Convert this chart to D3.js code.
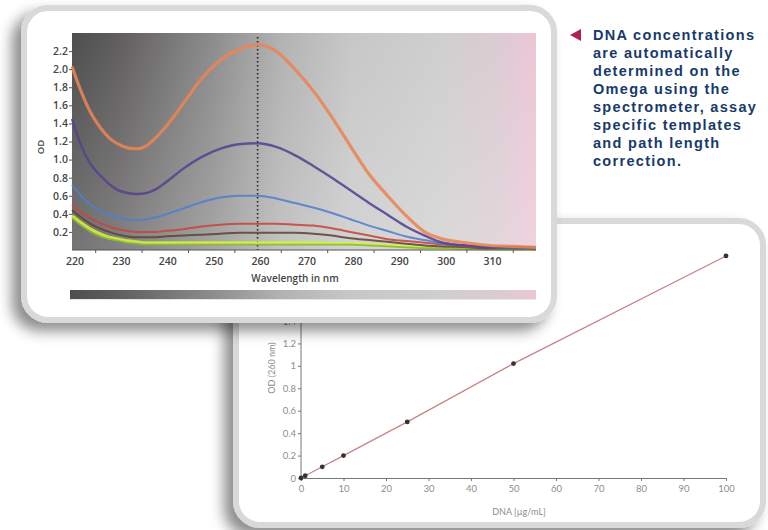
<!DOCTYPE html>
<html>
<head>
<meta charset="utf-8">
<script src="https://cdn.jsdelivr.net/npm/d3@7"></script>
<style>
  body { margin: 0; background: #fff; }
  svg { display: block; }
</style>
</head>
<body>
<script>
// spectrum data (OD vs wavelength)
const wavelengths = [220, 222, 224, 226, 228, 230, 232, 234, 236, 238, 240, 244, 248, 252, 256, 260, 264, 268, 272, 276, 280, 284, 288, 292, 296, 300, 305, 310, 315, 320];
const odOrange = [2.03, 1.75, 1.52, 1.36, 1.24, 1.17, 1.13, 1.12, 1.15, 1.24, 1.35, 1.62, 1.9, 2.1, 2.22, 2.27, 2.2, 2.0, 1.76, 1.47, 1.15, 0.84, 0.6, 0.38, 0.2, 0.12, 0.08, 0.05, 0.04, 0.03];
const odPurple = [1.45, 1.15, 0.95, 0.83, 0.73, 0.66, 0.63, 0.62, 0.63, 0.67, 0.74, 0.9, 1.03, 1.12, 1.17, 1.18, 1.14, 1.05, 0.93, 0.8, 0.66, 0.52, 0.39, 0.26, 0.16, 0.08, 0.05, 0.03, 0.03, 0.02];
const odBlue = [0.72, 0.6, 0.5, 0.43, 0.39, 0.36, 0.34, 0.33, 0.34, 0.36, 0.39, 0.46, 0.53, 0.58, 0.6, 0.6, 0.57, 0.52, 0.47, 0.41, 0.34, 0.27, 0.21, 0.15, 0.11, 0.07, 0.05, 0.03, 0.02, 0.02];
const odRed = [0.5, 0.42, 0.35, 0.3, 0.26, 0.23, 0.21, 0.2, 0.2, 0.2, 0.21, 0.23, 0.26, 0.28, 0.29, 0.29, 0.29, 0.28, 0.27, 0.24, 0.2, 0.16, 0.12, 0.1, 0.08, 0.06, 0.04, 0.03, 0.03, 0.03];
const odBrown = [0.44, 0.36, 0.29, 0.24, 0.2, 0.17, 0.15, 0.14, 0.14, 0.14, 0.15, 0.16, 0.17, 0.18, 0.19, 0.19, 0.19, 0.19, 0.18, 0.16, 0.13, 0.11, 0.09, 0.07, 0.05, 0.04, 0.03, 0.02, 0.02, 0.02];
const odGreen = [0.35, 0.27, 0.2, 0.15, 0.12, 0.1, 0.08, 0.07, 0.06, 0.06, 0.06, 0.06, 0.06, 0.06, 0.06, 0.06, 0.06, 0.06, 0.06, 0.06, 0.06, 0.05, 0.04, 0.03, 0.02, 0.02, 0.01, 0.01, 0.01, 0.01];
const odYellow = [0.38, 0.3, 0.23, 0.18, 0.14, 0.12, 0.1, 0.09, 0.08, 0.08, 0.08, 0.08, 0.08, 0.08, 0.08, 0.08, 0.08, 0.08, 0.08, 0.07, 0.07, 0.06, 0.05, 0.04, 0.03, 0.02, 0.02, 0.01, 0.01, 0.01];
const specXLabels = [220, 230, 240, 250, 260, 270, 280, 290, 300, 310];
const specXTicks = [225, 235, 245, 255, 265, 275, 285, 295, 305, 315];
const specYTicks = [0.2, 0.4, 0.6, 0.8, 1.0, 1.2, 1.4, 1.6, 1.8, 2.0, 2.2];

// standard curve data
const dnaConc = [0, 1, 5, 10, 25, 50, 100];
const dnaOD = [0, 0.02, 0.1, 0.2, 0.5, 1.02, 1.98];
const stdXTicks = [0, 10, 20, 30, 40, 50, 60, 70, 80, 90, 100];
const stdYTicks = [0, 0.2, 0.4, 0.6, 0.8, 1, 1.2, 1.4];

const caption = ["DNA concentrations", "are automatically", "determined on the", "Omega using the", "spectrometer, assay", "specific templates", "and path length", "correction."];

const W = 768, H = 530;
const svg = d3.select("body").append("svg").attr("width", W).attr("height", H);
const defs = svg.append("defs");

const shadow = defs.append("filter").attr("id", "shadow")
    .attr("x", "-20%").attr("y", "-20%").attr("width", "140%").attr("height", "140%");
shadow.append("feDropShadow").attr("dx", -9).attr("dy", 8).attr("stdDeviation", 7)
    .attr("flood-color", "#000").attr("flood-opacity", 0.45);

const bgGrad = defs.append("linearGradient").attr("id", "bg").attr("x1", 0).attr("x2", 1).attr("y1", 0).attr("y2", 0);
[[0, "#4f4e4e"], [0.1, "#5f5d5d"], [0.3, "#8c8b8b"], [0.45, "#b2b2b2"], [0.6, "#c7c7c7"], [0.8, "#cfcfcf"], [0.92, "#dccbd2"], [1, "#ecc6d6"]]
    .forEach(([o, c]) => bgGrad.append("stop").attr("offset", o).attr("stop-color", c));
const vGrad = defs.append("linearGradient").attr("id", "vg").attr("x1", 0).attr("x2", 0).attr("y1", 0).attr("y2", 1);
vGrad.append("stop").attr("offset", 0).attr("stop-color", "#fff").attr("stop-opacity", 0);
vGrad.append("stop").attr("offset", 1).attr("stop-color", "#fff").attr("stop-opacity", 0.22);

// ---------- bottom panel: standard curve ----------
svg.append("rect").attr("x", 236).attr("y", 221).attr("width", 527).attr("height", 304).attr("rx", 24)
    .attr("fill", "#fff").attr("stroke", "#d9d9d9").attr("stroke-width", 6).attr("filter", "url(#shadow)");

const sx = d3.scaleLinear().domain([0, 100]).range([301, 726]);
const sy = d3.scaleLinear().domain([0, 1.4]).range([478, 321]);
const light = "#8d8d8d";

const sxAxis = svg.append("g").attr("transform", `translate(0,${sy(0)})`)
    .call(d3.axisBottom(sx).tickValues(stdXTicks).tickSize(3).tickPadding(4));
const syAxis = svg.append("g").attr("transform", `translate(${sx(0)},0)`)
    .call(d3.axisLeft(sy).tickValues(stdYTicks).tickFormat(d3.format("")).tickSize(3).tickPadding(2));
syAxis.select(".domain").attr("d", `M0,${sy(0)}V300`);
[sxAxis, syAxis].forEach(a => {
    a.select(".domain").attr("stroke", "#777");
    a.selectAll(".tick line").attr("stroke", "#777");
    a.selectAll("text").attr("fill", light).attr("font-family", "Lato, sans-serif").attr("font-size", 9.5);
});

svg.append("path").datum(d3.zip(dnaConc, dnaOD))
    .attr("fill", "none").attr("stroke", "#c98484").attr("stroke-width", 1.3)
    .attr("d", d3.line().x(d => sx(d[0])).y(d => sy(d[1])));
svg.append("g").selectAll("circle").data(d3.zip(dnaConc, dnaOD)).join("circle")
    .attr("cx", d => sx(d[0])).attr("cy", d => sy(d[1])).attr("r", 2.4).attr("fill", "#333");

svg.append("text").attr("x", 519).attr("y", 515).attr("text-anchor", "middle")
    .attr("fill", light).attr("font-family", "Lato, sans-serif").attr("font-size", 9).text("DNA [µg/mL]");
svg.append("text").attr("transform", "translate(275,368) rotate(-90)").attr("text-anchor", "middle")
    .attr("fill", light).attr("font-family", "Lato, sans-serif").attr("font-size", 9).text("OD (260 nm)");

// ---------- top panel: absorbance spectra ----------
svg.append("rect").attr("x", 24).attr("y", 8).attr("width", 530).attr("height", 312).attr("rx", 24)
    .attr("fill", "#fff").attr("stroke", "#d9d9d9").attr("stroke-width", 6).attr("filter", "url(#shadow)");

const x = d3.scaleLinear().domain([220, 320]).range([72, 536]);
const y = d3.scaleLinear().domain([0, 2.4]).range([250, 33]);

svg.append("rect").attr("x", x(220)).attr("y", y(2.4)).attr("width", x(320) - x(220)).attr("height", y(0) - y(2.4)).attr("fill", "url(#bg)");
svg.append("rect").attr("x", x(220)).attr("y", y(2.4)).attr("width", x(320) - x(220)).attr("height", y(0) - y(2.4)).attr("fill", "url(#vg)");

// colour bar under the chart
svg.append("rect").attr("x", x(220) - 2).attr("y", 290).attr("width", x(320) - x(220) + 2).attr("height", 9).attr("fill", "url(#bg)");
svg.append("line").attr("x1", x(220) - 2).attr("x2", x(320)).attr("y1", 299.5).attr("y2", 299.5).attr("stroke", "#e6e6e6");

svg.append("line").attr("x1", x(260)).attr("x2", x(260)).attr("y1", y(2.4) + 4).attr("y2", y(0))
    .attr("stroke", "#222").attr("stroke-width", 1.6).attr("stroke-dasharray", "1.5,2.5");

const series = [
    { od: odYellow, color: "#d7ef3c", w: 3.2 },
    { od: odGreen, color: "#86b83a", w: 1.8 },
    { od: odBrown, color: "#5e4437", w: 2 },
    { od: odRed, color: "#c8463c", w: 2 },
    { od: odBlue, color: "#4f7fcc", w: 2 },
    { od: odPurple, color: "#55438f", w: 2.4 },
    { od: odOrange, color: "#ea8454", w: 3.2 }
];
const line = d3.line().curve(d3.curveMonotoneX).x(d => x(d[0])).y(d => y(d[1]));
svg.append("g").selectAll("path").data(series).join("path")
    .attr("fill", "none").attr("stroke", d => d.color).attr("stroke-width", d => d.w).attr("stroke-opacity", 0.88)
    .attr("stroke-linejoin", "round")
    .attr("d", d => line(d3.zip(wavelengths, d.od)));

svg.append("line").attr("x1", x(220)).attr("x2", x(320)).attr("y1", y(0)).attr("y2", y(0)).attr("stroke", "#555").attr("stroke-width", 1);

const dark = "#454545";
const xAxis = svg.append("g").attr("transform", `translate(0,${y(0)})`)
    .call(d3.axisBottom(x).tickValues(specXTicks).tickSize(3).tickFormat(""));
xAxis.select(".domain").remove();
xAxis.selectAll(".tick line").attr("stroke", "#555");
svg.append("g").selectAll("text").data(specXLabels).join("text")
    .attr("x", d => x(d) + 3).attr("y", y(0) + 15).attr("text-anchor", "middle")
    .attr("fill", dark).attr("font-family", "'Open Sans', sans-serif").attr("font-size", 10.5).attr("font-weight", 600)
    .text(d => d);

const yAxis = svg.append("g").attr("transform", `translate(${x(220)},0)`)
    .call(d3.axisLeft(y).tickValues(specYTicks).tickFormat(d3.format(".1f")).tickSize(3).tickPadding(1));
yAxis.select(".domain").remove();
yAxis.selectAll(".tick line").attr("stroke", "#555");
yAxis.selectAll("text").attr("fill", dark).attr("font-family", "'Open Sans', sans-serif").attr("font-size", 10.5).attr("font-weight", 600);

svg.append("text").attr("x", 295).attr("y", 282).attr("text-anchor", "middle")
    .attr("fill", dark).attr("font-family", "'Open Sans', sans-serif").attr("font-size", 10).attr("font-weight", 600)
    .text("Wavelength in nm");
svg.append("text").attr("transform", "translate(44,147) rotate(-90)").attr("text-anchor", "middle")
    .attr("fill", dark).attr("font-family", "'Open Sans', sans-serif").attr("font-size", 9.5).attr("font-weight", 600)
    .text("OD");

// ---------- caption ----------
svg.append("path").attr("d", "M570,35 L581,29 L581,41 Z").attr("fill", "#b3204f");
svg.append("g").selectAll("text").data(caption).join("text")
    .attr("x", 593).attr("y", (d, i) => 40 + i * 18)
    .attr("fill", "#173a6b").attr("font-family", "'Liberation Sans', Arial, sans-serif").attr("font-size", 14.5).attr("font-weight", 700)
    .attr("letter-spacing", 1.3)
    .text(d => d);
</script>
</body>
</html>
